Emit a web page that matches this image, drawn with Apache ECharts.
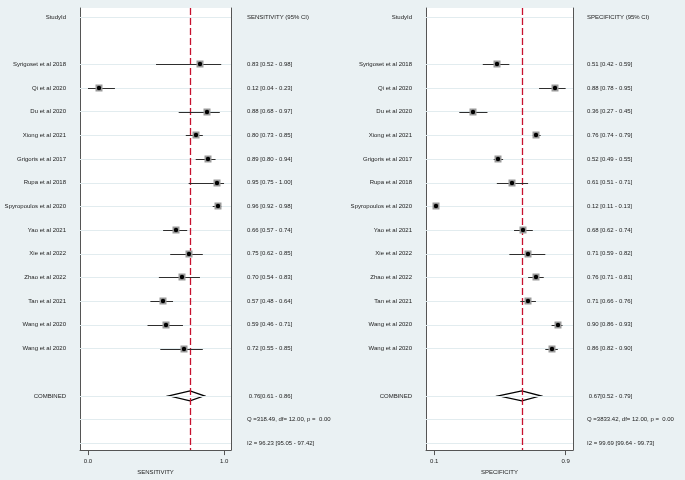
<!DOCTYPE html>
<html><head><meta charset="utf-8">
<script src="https://cdn.jsdelivr.net/npm/echarts@6/dist/echarts.min.js"></script>
<style>html,body{margin:0;padding:0;background:#eaf1f3;}#c{width:685px;height:480px;}</style>
</head><body><div id="c"></div>
<script>
const studies = ['Syrigoset et al 2018','Qi et al 2020','Du et al 2020','Xiong et al 2021','Grigoris et al 2017','Rupa et al 2018','Spyropoulos et al 2020','Yao et al 2021','Xie et al 2022','Zhao et al 2022','Tan et al 2021','Wang et al 2020','Wang et al 2020'];
const sensEst = [0.83,0.12,0.88,0.80,0.89,0.95,0.96,0.66,0.75,0.70,0.57,0.59,0.72];
const sensLo  = [0.52,0.04,0.68,0.73,0.80,0.75,0.92,0.57,0.62,0.54,0.48,0.46,0.55];
const sensHi  = [0.98,0.23,0.97,0.85,0.94,1.00,0.98,0.74,0.85,0.83,0.64,0.71,0.85];
const specEst = [0.51,0.88,0.36,0.76,0.52,0.61,0.12,0.68,0.71,0.76,0.71,0.90,0.86];
const specLo  = [0.42,0.78,0.27,0.74,0.49,0.51,0.11,0.62,0.59,0.71,0.66,0.86,0.82];
const specHi  = [0.59,0.95,0.45,0.79,0.55,0.71,0.13,0.74,0.82,0.81,0.76,0.93,0.90];
const sensCombined = [0.76,0.61,0.86];
const specCombined = [0.67,0.52,0.79];
const sensStats = ['Q =318.49, df= 12.00, p =  0.00','I2 = 96.23 [95.05 - 97.42]'];
const specStats = ['Q =3833.42, df= 12.00, p =  0.00','I2 = 99.69 [99.64 - 99.73]'];
const sensTicks = [0.04,1.00];
const sensTickLabels = ['0.0','1.0'];
const specTicks = [0.11,0.95];
const specTickLabels = ['0.1','0.9'];

const f2 = v => v.toFixed(2);
const HEAD = 0, FIRST = 2, COMB = FIRST + studies.length + 1, QROW = COMB + 1, IROW = COMB + 2;
const labelRows = [HEAD].concat(studies.map((s,i)=>FIRST+i)).concat([COMB]);
const textRows = labelRows.concat([QROW, IROW]);

function leftText(r){
  if (r===HEAD) return 'StudyId';
  if (r===COMB) return 'COMBINED';
  const i=r-FIRST; return (i>=0&&i<studies.length)?studies[i]:'';
}
function rightText(r, head, est, lo, hi, comb, stats){
  if (r===HEAD) return head;
  if (r===COMB) return ' '+f2(comb[0])+'['+f2(comb[1])+' - '+f2(comb[2])+']';
  if (r===QROW) return stats[0];
  if (r===IROW) return stats[1];
  const i=r-FIRST; return (i>=0&&i<studies.length)?(f2(est[i])+' ['+f2(lo[i])+' - '+f2(hi[i])+']'):'';
}
const FONT = 'Liberation Sans, Arial, sans-serif';
const TXT = '#222';

function nearestLabel(v, ticks, labels){
  let b=0; ticks.forEach((t,i)=>{ if(Math.abs(t-v)<Math.abs(ticks[b]-v)) b=i; }); return labels[b];
}

function makeX(gi, min, max, ticks, labels, name){
  return {gridIndex:gi, type:'value', min:min, max:max,
    axisLine:{show:true, onZero:false, lineStyle:{color:'#555', width:1}},
    axisTick:{show:true, customValues:ticks, length:5, lineStyle:{color:'#555'}},
    axisLabel:{customValues:ticks, formatter:v=>nearestLabel(v,ticks,labels), fontSize:6, fontFamily:FONT, color:TXT, margin:8},
    splitLine:{show:false},
    name:name, nameLocation:'middle', nameGap:15, nameTextStyle:{fontSize:6, fontFamily:FONT, color:TXT}};
}
const YMIN=-0.38, YMAX=18.29;
function makeY(gi, pos, fmt, margin){
  return {gridIndex:gi, type:'value', inverse:true, min:YMIN, max:YMAX, position:pos,
    axisLine:{show:true, onZero:false, lineStyle:{color:'#555', width:1}},
    axisTick:{show:false}, splitLine:{show:false},
    axisLabel:{customValues: pos==='left'?labelRows:textRows, formatter:v=>fmt(Math.round(v)), fontSize:6, fontFamily:FONT, color:TXT, margin:margin, align: pos==='left'?'right':'left'}};
}

function studyData(est, lo, hi){ return est.map((e,i)=>[e, lo[i], hi[i], FIRST+i]); }

function renderStudy(params, api){
  const e=api.value(0), lo=api.value(1), hi=api.value(2), r=api.value(3);
  const a=api.coord([lo,r]), b=api.coord([hi,r]), p=api.coord([e,r]);
  const y=Math.round(p[1])+0.5;
  return {type:'group', children:[
    {type:'line', shape:{x1:a[0],y1:y,x2:b[0],y2:y}, style:{stroke:'#2e2e2e', lineWidth:1}},
    {type:'rect', shape:{x:Math.round(p[0])-3.5,y:y-4,width:7,height:7}, style:{fill:'#9a9a9a'}},
    {type:'circle', shape:{cx:Math.round(p[0]),cy:y-0.5,r:2.2}, style:{fill:'#000'}}
  ]};
}
function renderDiamond(params, api){
  const e=api.value(0), lo=api.value(1), hi=api.value(2), r=api.value(3);
  const a=api.coord([lo,r]), b=api.coord([hi,r]), p=api.coord([e,r]);
  return {type:'polygon', shape:{points:[[a[0],a[1]],[p[0],p[1]-5],[b[0],b[1]],[p[0],p[1]+5]]}, style:{fill:'#fff', stroke:'#000', lineWidth:1.3}};
}

function panelSeries(gi, est, lo, hi, comb){
  const ml = textRows.map(r=>({yAxis:r, lineStyle:{color:'#e2ecef', width:1, type:'solid'}}));
  ml.push({xAxis:comb[0], lineStyle:{color:'#c8102e', width:1.3, type:[7,3]}});
  return [
    {type:'scatter', xAxisIndex:gi, yAxisIndex:gi*2, data:[[comb[0],COMB]], symbolSize:0, silent:true, z:1,
      markLine:{symbol:'none', silent:true, label:{show:false}, animation:false, data:ml}},
    {type:'custom', xAxisIndex:gi, yAxisIndex:gi*2, data:studyData(est,lo,hi), renderItem:renderStudy, encode:{x:[0,1,2], y:3}, z:10, silent:true},
    {type:'custom', xAxisIndex:gi, yAxisIndex:gi*2, data:[[comb[0],comb[1],comb[2],COMB]], renderItem:renderDiamond, encode:{x:[0,1,2], y:3}, z:4, silent:true}
  ];
}

const chart = echarts.init(document.getElementById('c'), null, {renderer:'canvas'});
chart.setOption({
  backgroundColor:'#eaf1f3',
  animation:false,
  grid:[
    {left:80, top:8, width:151, height:446, show:true, backgroundColor:'#fff', borderWidth:0},
    {left:426, top:8, width:147, height:446, show:true, backgroundColor:'#fff', borderWidth:0}
  ],
  xAxis:[
    makeX(0, -0.0165, 1.049, sensTicks, sensTickLabels, 'SENSITIVITY'),
    makeX(1, 0.057, 0.997, specTicks, specTickLabels, 'SPECIFICITY')
  ],
  yAxis:[
    makeY(0,'left', leftText, 14),
    makeY(0,'right', r=>rightText(r,'SENSITIVITY (95% CI)',sensEst,sensLo,sensHi,sensCombined,sensStats), 16),
    makeY(1,'left', leftText, 14),
    makeY(1,'right', r=>rightText(r,'SPECIFICITY (95% CI)',specEst,specLo,specHi,specCombined,specStats), 14)
  ],
  series: panelSeries(0, sensEst, sensLo, sensHi, sensCombined).concat(panelSeries(1, specEst, specLo, specHi, specCombined))
});
</script></body></html>
